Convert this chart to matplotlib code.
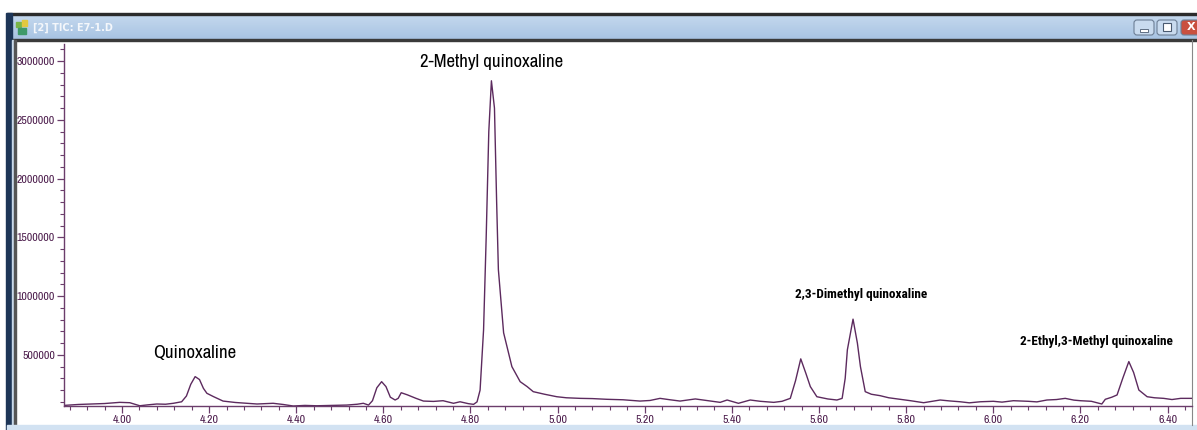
import matplotlib
matplotlib.use("Agg")
import matplotlib.pyplot as plt
import numpy as np
from matplotlib.patches import Rectangle, FancyBboxPatch
from matplotlib.ticker import MultipleLocator, FixedLocator

# retention time (min) and TIC abundance
rt = [3.867, 3.900, 3.934, 3.960, 3.995, 4.018, 4.041, 4.060, 4.080, 4.100,
      4.118, 4.137, 4.148, 4.158, 4.168, 4.178, 4.187, 4.195, 4.210, 4.232,
      4.260, 4.286, 4.310, 4.347, 4.370, 4.393, 4.420, 4.447, 4.480, 4.516,
      4.540, 4.554, 4.566, 4.575, 4.585, 4.596, 4.606, 4.616, 4.627, 4.634,
      4.641, 4.655, 4.675, 4.692, 4.715, 4.737, 4.761, 4.776, 4.795, 4.807,
      4.815, 4.822, 4.830, 4.836, 4.842, 4.848, 4.855, 4.860, 4.864, 4.876,
      4.895, 4.914, 4.930, 4.944, 4.970, 4.998, 5.020, 5.052, 5.080, 5.113,
      5.150, 5.189, 5.212, 5.235, 5.258, 5.281, 5.316, 5.345, 5.373, 5.389,
      5.415, 5.442, 5.465, 5.496, 5.515, 5.534, 5.546, 5.558, 5.570, 5.580,
      5.595, 5.620, 5.641, 5.653, 5.660, 5.665, 5.678, 5.688, 5.695, 5.706,
      5.720, 5.740, 5.760, 5.786, 5.810, 5.840, 5.860, 5.878, 5.900, 5.924,
      5.945, 5.970, 6.000, 6.020, 6.046, 6.080, 6.100, 6.123, 6.145, 6.165,
      6.185, 6.200, 6.225, 6.249, 6.257, 6.272, 6.284, 6.297, 6.311, 6.322,
      6.334, 6.353, 6.370, 6.391, 6.410, 6.430, 6.459]
tic = [70000, 78000, 82000, 86000, 96000, 93000, 67000, 75000, 82000, 80000,
       88000, 101000, 150000, 250000, 315000, 290000, 215000, 173000, 145000, 107000,
       95000, 88000, 82000, 88000, 78000, 65000, 70000, 67000, 70000, 73000,
       80000, 88000, 73000, 110000, 220000, 272000, 230000, 140000, 116000, 130000,
       178000, 160000, 130000, 107000, 104000, 110000, 88000, 101000, 85000, 79000,
       100000, 200000, 713000, 1500000, 2400000, 2832000, 2600000, 1800000, 1225000, 688000,
       400000, 272000, 230000, 187000, 165000, 144000, 135000, 130000, 128000, 122000,
       118000, 107000, 112000, 130000, 118000, 107000, 125000, 110000, 96000, 116000,
       88000, 116000, 105000, 96000, 105000, 130000, 280000, 466000, 340000, 230000,
       144000, 125000, 116000, 130000, 300000, 543000, 804000, 600000, 400000, 187000,
       165000, 153000, 135000, 122000, 110000, 93000, 105000, 116000, 108000, 101000,
       92000, 101000, 105000, 98000, 110000, 105000, 100000, 116000, 120000, 130000,
       115000, 110000, 105000, 82000, 122000, 140000, 159000, 300000, 443000, 350000,
       201000, 144000, 135000, 130000, 120000, 130000, 130000]

peak_names = ["Quinoxaline", "2-Methyl quinoxaline", "2,3-Dimethyl quinoxaline",
              "2-Ethyl,3-Methyl quinoxaline"]
window_title = "[2] TIC: E7-1.D"

narrow = ["Archivo Narrow", "DejaVu Sans"]
narrow_bold = ["Roboto Condensed", "DejaVu Sans"]

W, H = 1197, 430
fig = plt.figure(figsize=(W / 100, H / 100), dpi=100)
fig.patch.set_facecolor("white")

# ---- window chrome drawn in pixel coordinates ----
bg = fig.add_axes([0, 0, 1, 1])
bg.set_xlim(0, W)
bg.set_ylim(H, 0)
bg.axis("off")
grad = np.linspace(0, 1, 50).reshape(-1, 1)
bg.imshow(grad, extent=[7, W, 40, 15], aspect="auto", zorder=1,
          cmap=matplotlib.colors.LinearSegmentedColormap.from_list(
              "tb", ["#c4d8ee", "#a7c3e2"]))
bg.add_patch(Rectangle((7, 13), W - 7, 2, color="#2b2b2b", zorder=2))
bg.add_patch(Rectangle((7, 39), W - 7, 1.5, color="#3a3a3a", zorder=2))
bg.add_patch(Rectangle((6, 13), 6, H - 13, color="#1d3557", zorder=2))
bg.add_patch(Rectangle((12, 40), 2, H - 40, color="#c9d9ea", zorder=2))
bg.add_patch(Rectangle((14, 40), 1.5, H - 40, color="#555555", zorder=2))
bg.add_patch(Rectangle((7, 425), W - 7, 5, color="#d2e2f2", zorder=2))
bg.plot([1192, 1192], [40, 425], color="#888888", lw=0.8, zorder=2)
bg.text(33, 28, window_title, fontsize=7, color="#f4f7fb", va="center",
        ha="left", family="DejaVu Sans", weight="bold", zorder=3)
bg.add_patch(Rectangle((16, 22), 5, 5, color="#7ab648", zorder=3))
bg.add_patch(Rectangle((22, 20), 5, 6, color="#e2c840", zorder=3))
bg.add_patch(Rectangle((18, 28), 8, 6, color="#3f9a6a", zorder=3))
for x0, fc in [(1134, "#c9dbef"), (1157, "#c9dbef"), (1181, "#c9503f")]:
    bg.add_patch(FancyBboxPatch((x0, 20), 20, 15,
                                boxstyle="round,pad=0,rounding_size=3",
                                fc=fc, ec="#6d7f96", lw=0.8, zorder=3))
bg.add_patch(Rectangle((1140, 29), 8, 3, fc="white", ec="#4a5a70", lw=0.6, zorder=4))
bg.add_patch(Rectangle((1163, 23), 8, 8, fc="white", ec="#4a5a70", lw=0.8, zorder=4))
bg.text(1191, 27.5, "X", fontsize=8, color="white", weight="bold",
        ha="center", va="center", zorder=4)

# ---- chromatogram ----
line_col = "#5c2a5e"
axis_col = "#6b3d6b"
ax = fig.add_axes([64 / W, 1 - 406 / H, (1192 - 64) / W, (406 - 44) / H])
ax.set_facecolor("none")
ax.plot(rt, tic, color=line_col, lw=1.0)
ax.set_xlim(3.867, 6.456)
ax.set_ylim(65000, 3145000)

for s in ["top", "right"]:
    ax.spines[s].set_visible(False)
for s in ["left", "bottom"]:
    ax.spines[s].set_color(axis_col)
    ax.spines[s].set_linewidth(1.0)

ax.xaxis.set_major_locator(FixedLocator([4.0, 4.2, 4.4, 4.6, 4.8, 5.0, 5.2,
                                         5.4, 5.6, 5.8, 6.0, 6.2, 6.4]))
ax.xaxis.set_minor_locator(MultipleLocator(0.04))
ax.yaxis.set_major_locator(FixedLocator([500000, 1000000, 1500000, 2000000,
                                         2500000, 3000000]))
ax.yaxis.set_minor_locator(MultipleLocator(100000))
ax.set_xticklabels(["%.2f" % v for v in ax.get_xticks()])
ax.set_yticklabels(["%d" % v for v in ax.get_yticks()])
ax.tick_params(which="major", length=5, width=0.9, color=axis_col,
               labelcolor="#4a1a4a", labelsize=8.5, pad=1.5)
ax.tick_params(which="minor", length=3, width=0.8, color=axis_col)
for lab in ax.get_xticklabels() + ax.get_yticklabels():
    lab.set_family(narrow)

# peak labels
ax.text(4.167, 520000, peak_names[0], fontsize=13.5, ha="center", va="center",
        family=narrow)
ax.text(4.848, 2990000, peak_names[1], fontsize=13.5, ha="center", va="center",
        family=narrow)
ax.text(5.697, 1010000, peak_names[2], fontsize=9.5, ha="center", va="center",
        family=narrow_bold, weight="bold")
ax.text(6.237, 610000, peak_names[3], fontsize=9.5, ha="center", va="center",
        family=narrow_bold, weight="bold")

fig.savefig("out.png", dpi=100)
